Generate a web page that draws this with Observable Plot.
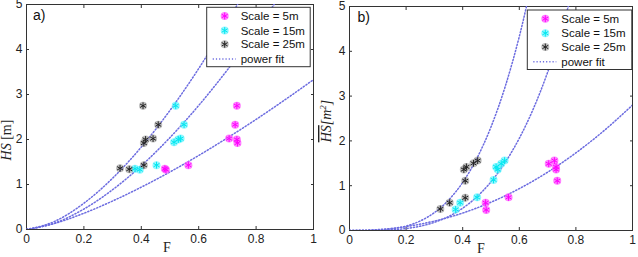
<!DOCTYPE html>
<html><head><meta charset="utf-8">
<script src="https://cdn.jsdelivr.net/npm/d3@7"></script>
<script src="https://cdn.jsdelivr.net/npm/@observablehq/plot@0.6"></script>
<style>
body{margin:0;background:#fff;}
#wrap{position:relative;width:638px;height:257px;overflow:hidden;background:#fff;}
#wrap svg{position:absolute;top:0;}
</style></head><body><div id="wrap"></div>
<script>
// ---- tick labels ----
const xTicks = [0, 0.2, 0.4, 0.6, 0.8, 1];
const xTickLabels = ["0", "0.2", "0.4", "0.6", "0.8", "1"];
const yTicks = [0, 1, 2, 3, 4, 5];
const yTickLabels = ["0", "1", "2", "3", "4", "5"];
const seriesNames = ["Scale = 5m", "Scale = 15m", "Scale = 25m"];
const fitName = "power fit";

// ---- panel a) mean HS [m] vs F ----
const a5F  = [0.733, 0.727, 0.706, 0.733, 0.735, 0.564, 0.482, 0.486];
const a5HS = [2.75, 2.33, 2.02, 2.00, 1.92, 1.43, 1.35, 1.33];
const a15F  = [0.520, 0.549, 0.537, 0.529, 0.514, 0.453, 0.378, 0.395];
const a15HS = [2.75, 2.33, 2.02, 2.00, 1.94, 1.43, 1.35, 1.33];
const a25F  = [0.406, 0.459, 0.441, 0.415, 0.409, 0.409, 0.326, 0.358];
const a25HS = [2.75, 2.33, 2.02, 2.00, 1.92, 1.43, 1.36, 1.34];

// power-fit curves read off panel a)
const aFitF5  = [0, 0.1, 0.2, 0.3, 0.4, 0.5, 0.6, 0.7, 0.8, 0.9, 1.0];
const aFit5   = [0, 0.139, 0.361, 0.633, 0.941, 1.279, 1.645, 2.036, 2.447, 2.880, 3.33];
const aFitF15 = [0, 0.1, 0.2, 0.3, 0.4, 0.5, 0.6, 0.7, 0.8, 0.9];
const aFit15  = [0, 0.146, 0.455, 0.884, 1.417, 2.044, 2.756, 3.548, 4.418, 5.36];
const aFitF25 = [0, 0.1, 0.2, 0.3, 0.4, 0.5, 0.6, 0.7, 0.8];
const aFit25  = [0, 0.186, 0.584, 1.140, 1.832, 2.648, 3.577, 4.613, 5.75];

// ---- panel b) HS [m^2] vs F ----
const b5F  = [0.724, 0.704, 0.730, 0.730, 0.734, 0.562, 0.481, 0.483];
const b5HS = [1.56, 1.49, 1.42, 1.36, 1.11, 0.74, 0.62, 0.46];
const b15F  = [0.548, 0.536, 0.518, 0.524, 0.509, 0.451, 0.391, 0.375];
const b15HS = [1.56, 1.49, 1.42, 1.36, 1.13, 0.74, 0.62, 0.47];
const b25F  = [0.453, 0.438, 0.413, 0.404, 0.409, 0.409, 0.354, 0.321];
const b25HS = [1.56, 1.50, 1.42, 1.36, 1.11, 0.73, 0.62, 0.48];

const bFitF5  = [0, 0.1, 0.2, 0.3, 0.4, 0.5, 0.6, 0.7, 0.8, 0.9, 1.0];
const bFit5   = [0, 0.020, 0.088, 0.210, 0.390, 0.631, 0.934, 1.301, 1.733, 2.232, 2.80];
const bFitF15 = [0, 0.05, 0.1, 0.15, 0.2, 0.25, 0.3, 0.35, 0.4, 0.45, 0.5, 0.55, 0.6, 0.65, 0.7, 0.75, 0.8];
const bFit15  = [0, 0.000, 0.004, 0.016, 0.044, 0.096, 0.182, 0.312, 0.498, 0.752, 1.087, 1.518, 2.058, 2.723, 3.531, 4.493, 5.63];
const bFitF25 = [0, 0.05, 0.1, 0.15, 0.2, 0.25, 0.3, 0.35, 0.4, 0.45, 0.5, 0.55, 0.6, 0.65];
const bFit25  = [0, 0.001, 0.009, 0.037, 0.099, 0.213, 0.399, 0.678, 1.073, 1.609, 2.312, 3.210, 4.33, 5.70];

// ---- styling ----
const colors = ["#ff00ff", "#00e8f0", "#222222"];
const halos  = ["#ff5cff", "#66f4ff", "#8a8a8a"];
const haloOpacity = [0.75, 0.7, 0.55];
const fitColor = "#6c6ce0";
const fitDash = "1.2,2";
const axisColor = "#333";
const sans = "'Liberation Sans', Arial, Helvetica, sans-serif";
const serif = "'Liberation Serif', 'Times New Roman', serif";

const rows = (F, H, k) => F.map((f, i) => ({F: f, HS: H[i], k}));
const curve = (F, H) => F.map((f, i) => ({F: f, HS: H[i]}));
const xLab = d => xTickLabels[xTicks.indexOf(d)];
const yLab = d => yTickLabels[yTicks.indexOf(d)];

function panel(cfg) {
  const pts = cfg.pts;
  const marks = [
    Plot.frame({stroke: axisColor, strokeWidth: 1}),
    // labels
    Plot.axisX(xTicks, {anchor: "bottom", tickSize: 0, tickPadding: 5, tickFormat: xLab, fontSize: 12, fill: "#222", label: null}),
    Plot.axisY(yTicks, {anchor: "left", tickSize: 0, tickPadding: 4, tickFormat: yLab, fontSize: 12, fill: "#222", label: null}),
    // inward ticks on all sides
    Plot.axisX(xTicks, {anchor: "bottom", tickSize: 3, dy: -3, tickFormat: () => "", stroke: axisColor, label: null}),
    Plot.axisX(xTicks, {anchor: "top", tickSize: 3, dy: 3, tickFormat: () => "", stroke: axisColor, label: null}),
    Plot.axisY(yTicks, {anchor: "left", tickSize: 3, dx: 3, tickFormat: () => "", stroke: axisColor, label: null}),
    Plot.axisY(yTicks, {anchor: "right", tickSize: 3, dx: -3, tickFormat: () => "", stroke: axisColor, label: null}),
    // fits
    ...cfg.fits.map(f => Plot.line(f, {x: "F", y: "HS", curve: "monotone-x", clip: true,
      stroke: fitColor, strokeWidth: 1.5, strokeDasharray: fitDash})),
    // points
    ...pts.map((p, k) => Plot.dot(p, {x: "F", y: "HS", r: 4, fill: halos[k], fillOpacity: haloOpacity[k], stroke: "none"})),
    ...pts.map((p, k) => Plot.dot(p, {x: "F", y: "HS", r: 3.2, symbol: "asterisk", stroke: colors[k], strokeWidth: 1})),
    // x label
    Plot.text(["F"], {frameAnchor: "bottom", dy: 22, dx: cfg.fdx, text: d => d, fontFamily: serif, fontSize: 14, fill: "#222"})
  ];
  const plot = Plot.plot({
    width: cfg.width, height: 257,
    marginLeft: cfg.ml, marginRight: cfg.mr, marginTop: cfg.mt, marginBottom: cfg.mb,
    x: {domain: [0, 1], label: null}, y: {domain: [0, 5], label: null},
    style: {fontFamily: sans, fontSize: "12px", background: "transparent", overflow: "visible"},
    marks
  });
  plot.style.left = cfg.left + "px";
  const svg = d3.select(plot);
  // panel tag
  svg.append("text").attr("x", cfg.tagX).attr("y", cfg.tagY).attr("font-family", sans)
    .attr("text-anchor", "start").attr("font-size", 14).attr("fill", "#111").text(cfg.tag);
  // y label
  const yl = svg.append("text").attr("transform", `translate(${cfg.ylX},${cfg.ylY}) rotate(-90)`)
    .attr("text-anchor", "middle").attr("font-family", serif).attr("font-size", 14).attr("fill", "#222");
  yl.append("tspan").attr("font-style", "italic").style("text-decoration", "overline").text("HS");
  cfg.ylRest(yl);
  // legend
  const L = cfg.leg;
  const g = svg.append("g").attr("transform", `translate(${L.x},${L.y})`).attr("text-anchor", "start");
  g.append("rect").attr("width", L.w).attr("height", L.h).attr("fill", "white").attr("stroke", axisColor).attr("stroke-width", 1);
  const rowY = [8.7, 23.2, 37.0, 51.7];
  seriesNames.forEach((name, k) => {
    g.append("circle").attr("cx", 18).attr("cy", rowY[k]).attr("r", 4).attr("fill", halos[k]).attr("fill-opacity", haloOpacity[k]);
    g.append("path").attr("transform", `translate(18,${rowY[k]})`)
      .attr("d", d3.symbol(d3.symbolAsterisk, Math.PI * 3.2 * 3.2)()).attr("stroke", colors[k]).attr("fill", "none");
    g.append("text").attr("x", 34).attr("y", rowY[k]).attr("dy", "0.36em").attr("font-family", sans)
      .attr("text-anchor", "start").attr("font-size", 11.5).attr("fill", "#111").text(name);
  });
  g.append("line").attr("x1", 6).attr("x2", 29).attr("y1", rowY[3]).attr("y2", rowY[3])
    .attr("stroke", fitColor).attr("stroke-width", 1.5).attr("stroke-dasharray", fitDash);
  g.append("text").attr("x", 34).attr("y", rowY[3]).attr("dy", "0.36em").attr("font-family", sans)
    .attr("text-anchor", "start").attr("font-size", 11.5).attr("fill", "#111").text(fitName);
  document.getElementById("wrap").appendChild(plot);
}

panel({
  left: 0, width: 320, ml: 26, mr: 7, mt: 4, mb: 28, fdx: -3,
  pts: [rows(a5F, a5HS, 0), rows(a15F, a15HS, 1), rows(a25F, a25HS, 2)],
  fits: [curve(aFitF5, aFit5), curve(aFitF15, aFit15), curve(aFitF25, aFit25)],
  tag: "a)", tagX: 33, tagY: 20,
  ylX: 11, ylY: 140,
  ylRest: t => t.append("tspan").text(" [m]"),
  leg: {x: 206.7, y: 7.3, w: 103.5, h: 59.4}
});
panel({
  left: 318, width: 320, ml: 31, mr: 6, mt: 6, mb: 27, fdx: -10,
  pts: [rows(b5F, b5HS, 0), rows(b15F, b15HS, 1), rows(b25F, b25HS, 2)],
  fits: [curve(bFitF5, bFit5), curve(bFitF15, bFit15), curve(bFitF25, bFit25)],
  tag: "b)", tagX: 39.5, tagY: 21.5,
  ylX: 13, ylY: 121,
  ylRest: t => { t.append("tspan").attr("font-style", "italic").text("[m");
                 t.append("tspan").attr("font-style", "italic").attr("font-size", 9).attr("dy", -5).text("2");
                 t.append("tspan").attr("font-style", "italic").attr("dy", 5).text("]"); },
  leg: {x: 209.3, y: 10, w: 104.5, h: 59.5}
});
</script></body></html>
